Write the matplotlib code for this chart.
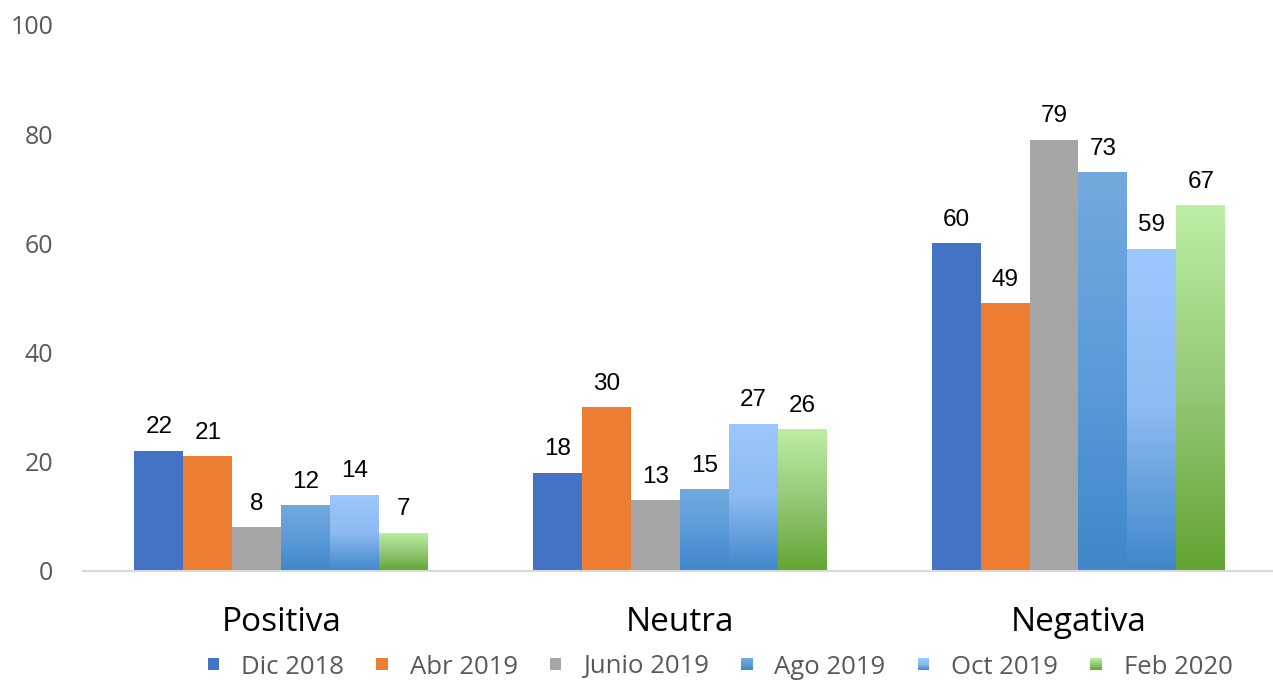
import numpy as np
import matplotlib
matplotlib.use("Agg")
import matplotlib.pyplot as plt
from matplotlib.colors import LinearSegmentedColormap
from matplotlib.patches import Rectangle
from matplotlib.legend_handler import HandlerBase

categories = ["Positiva", "Neutra", "Negativa"]
series_names = ["Dic 2018", "Abr 2019", "Junio 2019", "Ago 2019", "Oct 2019", "Feb 2020"]
dic_2018 = [22, 18, 60]
abr_2019 = [21, 30, 49]
junio_2019 = [8, 13, 79]
ago_2019 = [12, 15, 73]
oct_2019 = [14, 27, 59]
feb_2020 = [7, 26, 67]
series_values = [dic_2018, abr_2019, junio_2019, ago_2019, oct_2019, feb_2020]
y_ticks = [0, 20, 40, 60, 80, 100]

# colour stops (top -> bottom); a single colour means a flat fill
fills = [
    ["#4472C4"],
    ["#ED7D31"],
    ["#A5A5A5"],
    ["#74A9DD", "#5B9BD9", "#3F87CA"],
    ["#9DC8FF", "#8DBAF2", "#3F87CA"],
    ["#BDEEA5", "#95C877", "#62A532"],
]

plt.rcParams['font.family'] = ['Open Sans', 'DejaVu Sans']

fig = plt.figure(figsize=(12.73, 6.80), dpi=100)
ax = fig.add_axes([83 / 1273, 109 / 680, (1272 - 83) / 1273, (571 - 25) / 680])

x = np.arange(len(categories))
n = len(series_names)
width = 0.1228

def grad_img(stops):
    cmap = LinearSegmentedColormap.from_list("g", stops[::-1])
    return cmap, np.linspace(0, 1, 256).reshape(-1, 1)

for i, (name, vals, stops) in enumerate(zip(series_names, series_values, fills)):
    offs = (i - (n - 1) / 2) * width
    if len(stops) == 1:
        bars = ax.bar(x + offs, vals, width, color=stops[0], linewidth=0, zorder=2)
    else:
        bars = ax.bar(x + offs, vals, width, color="none", linewidth=0, zorder=2)
        cmap, img = grad_img(stops)
        for b in bars:
            x0, y0 = b.get_x(), b.get_y()
            w, h = b.get_width(), b.get_height()
            im = ax.imshow(img, cmap=cmap, extent=(x0, x0 + w, y0, y0 + h),
                           origin="lower", aspect="auto", zorder=2, interpolation="bilinear")
            im.set_clip_path(b)
    for b, v in zip(bars, vals):
        ax.annotate(str(v), (b.get_x() + b.get_width() / 2, v), xytext=(0, 9),
                    textcoords="offset points", ha="center", va="bottom",
                    fontsize=17.5, color="black", family=["Liberation Sans", "DejaVu Sans"])

ax.set_xlim(-0.4975, 2.4856)
ax.set_ylim(0, 100)
ax.set_yticks(y_ticks)
ax.set_yticklabels([str(t) for t in y_ticks], fontsize=18, color="#595959")
ax.set_xticks(x)
ax.set_xticklabels(categories, fontsize=24, color="black")
ax.tick_params(axis="y", length=0, pad=21.5)
ax.tick_params(axis="x", length=0, pad=25)
for s in ["left", "right", "top"]:
    ax.spines[s].set_visible(False)
ax.spines["bottom"].set_color("#D9D9D9")
ax.spines["bottom"].set_linewidth(1.5)


class GradHandler(HandlerBase):
    def __init__(self, stops):
        super().__init__()
        self.stops = stops

    def create_artists(self, legend, orig_handle, xdescent, ydescent, width, height, fontsize, trans):
        size = min(width, height)
        x0 = xdescent * -1 + (width - size) / 2
        y0 = -ydescent + (height - size) / 2
        arts = []
        k = 12
        cmap = LinearSegmentedColormap.from_list("g", self.stops[::-1] if len(self.stops) > 1 else self.stops * 2)
        for j in range(k):
            r = Rectangle((x0, y0 + size * j / k), size, size / k + 0.3,
                          facecolor=cmap((j + 0.5) / k), edgecolor="none", transform=trans)
            arts.append(r)
        return arts


handles = [Rectangle((0, 0), 1, 1) for _ in series_names]
hmap = {h: GradHandler(s) for h, s in zip(handles, fills)}
leg = fig.legend(handles, series_names, handler_map=hmap, loc="center",
                 bbox_to_anchor=(720 / 1273, 1 - 667 / 680), ncol=6, frameon=False,
                 fontsize=18.5, handlelength=0.45, handleheight=0.45, handletextpad=0.85,
                 columnspacing=1.25, borderpad=0, borderaxespad=0)
for t in leg.get_texts():
    t.set_color("#595959")

fig.savefig("out.png", dpi=100)
